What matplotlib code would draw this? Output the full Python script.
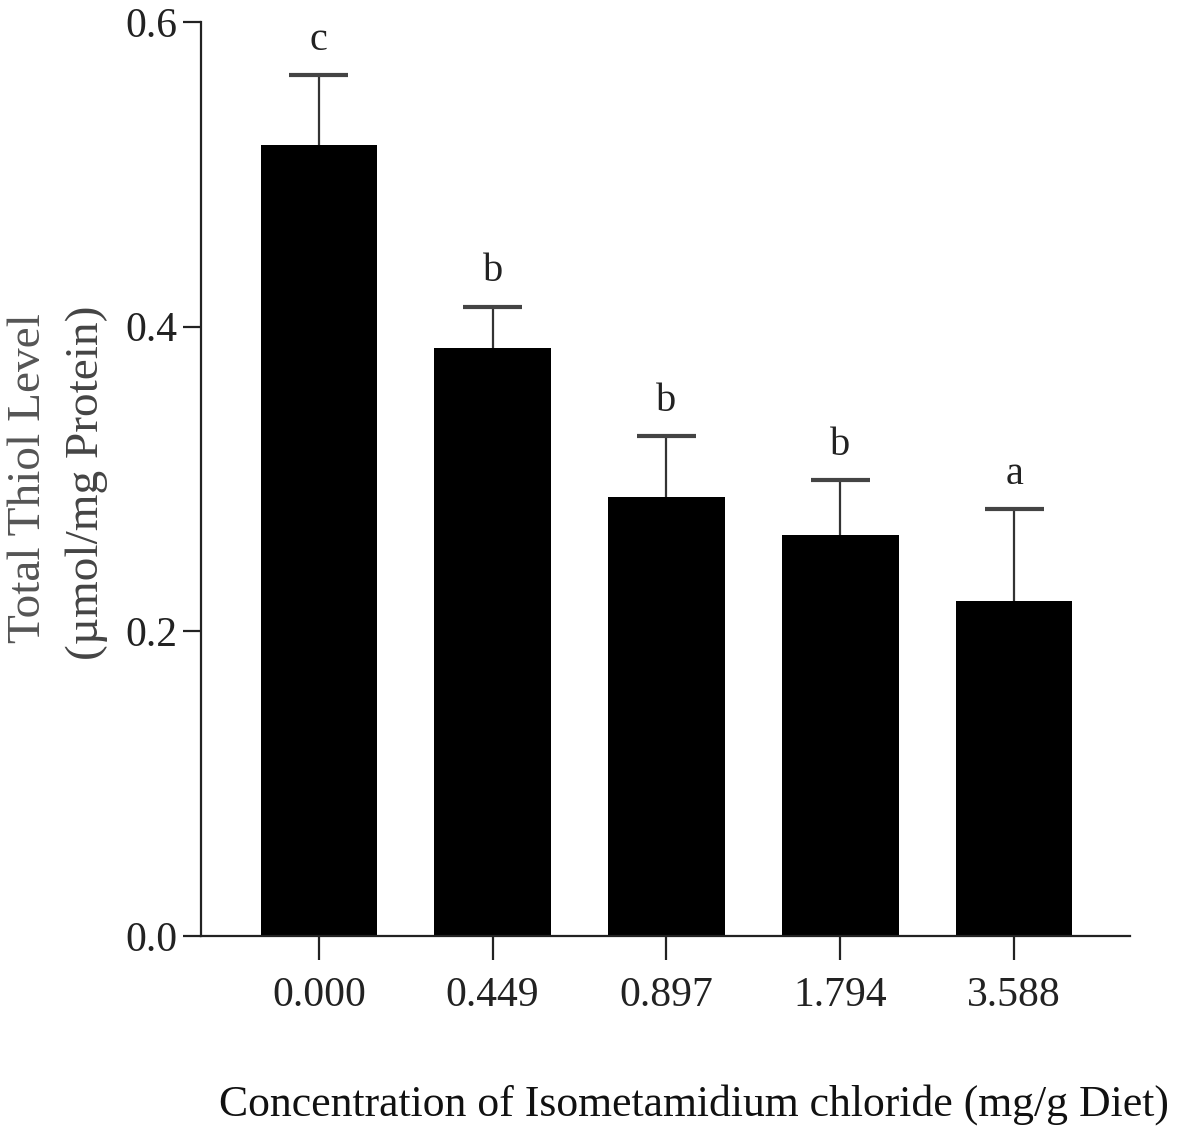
import numpy as np
import matplotlib.pyplot as plt

# data
doses = ['0.000', '0.449', '0.897', '1.794', '3.588']
thiol = [0.519, 0.386, 0.288, 0.263, 0.220]
sem = [0.046, 0.027, 0.040, 0.036, 0.060]
letters = ['c', 'b', 'b', 'b', 'a']

plt.rcParams['font.family'] = ['Liberation Serif', 'DejaVu Serif']

fig = plt.figure(figsize=(11.78, 11.33), dpi=100)
ax = fig.add_axes([0.1706, 0.1739, 0.9593 - 0.1706, 0.9806 - 0.1739])

x = np.arange(len(doses))
top = np.array(thiol) + np.array(sem)
ax.bar(x, thiol, width=0.67, color='black', zorder=2)
# upper-only error bars
ax.vlines(x, thiol, top, color='#333333', linewidth=1.6, zorder=1)
ax.hlines(top, x - 0.17, x + 0.17, color='#444444', linewidth=3, zorder=1)

for xi, yi, lab in zip(x, top, letters):
    ax.annotate(lab, (xi, yi), xytext=(0, 12), textcoords='offset points',
                ha='center', va='bottom', fontsize=29, color='#222222')

ax.set_xlim(-0.678, 4.667)
ax.set_ylim(0, 0.6)
ax.set_yticks([0.0, 0.2, 0.4, 0.6])
ax.set_yticklabels(['0.0', '0.2', '0.4', '0.6'])
ax.set_xticks(x)
ax.set_xticklabels(doses)

ax.spines['top'].set_visible(False)
ax.spines['right'].set_visible(False)
for s in ['left', 'bottom']:
    ax.spines[s].set_linewidth(1.6)
    ax.spines[s].set_color('#222222')

ax.tick_params(axis='y', length=13, width=1.6, color='#222222', labelsize=30,
               labelcolor='#222222', pad=4)
ax.tick_params(axis='x', length=17, width=1.6, color='#222222', labelsize=30,
               labelcolor='#222222', pad=12)

fig.text(0.024, 0.578, 'Total Thiol Level', rotation=90, ha='center', va='center',
         fontsize=34, color='#555555')
fig.text(0.074, 0.574, '(\u00b5mol/mg Protein)', rotation=90, ha='center', va='center',
         fontsize=34, color='#444444')
fig.text(0.589, 0.025, 'Concentration of Isometamidium chloride (mg/g Diet)',
         ha='center', va='center', fontsize=31.5, color='#111111')

fig.savefig('out.png', dpi=100)
